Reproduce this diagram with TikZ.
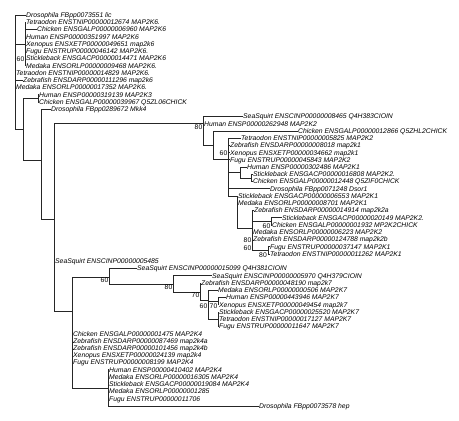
\documentclass[tikz,border=0pt]{standalone}
\usepackage{fontspec}
\setmainfont{Liberation Sans}
\begin{document}
\begin{tikzpicture}[x=1pt,y=-1pt,
  leaf/.style={anchor=west,inner sep=0pt,text height=4.9pt,text depth=0pt,font=\fontsize{6.8}{7}\selectfont\itshape},
  sup/.style={anchor=east,inner sep=0pt,text height=4.9pt,text depth=0pt,font=\fontsize{6.8}{7}\selectfont},
  br/.style={line width=0.65pt,black!85}]
\useasboundingbox (0,0) rectangle (459,421);
% ---- leaves ----
\node[leaf] (L1) at (26,15.00) {Drosophila FBpp0073551 lic};
\node[leaf] (L2) at (26,22.24) {Tetraodon ENSTNIP00000012674 MAP2K6.};
\node[leaf] (L3) at (37,29.48) {Chicken ENSGALP00000006960 MAP2K6};
\node[leaf] (L4) at (26,36.72) {Human ENSP00000351997 MAP2K6};
\node[leaf] (L5) at (26,43.96) {Xenopus ENSXETP00000049651 map2k6};
\node[leaf] (L6) at (26,51.20) {Fugu ENSTRUP00000046142 MAP2K6.};
\node[leaf] (L7) at (26,58.44) {Stickleback ENSGACP00000014471 MAP2K6};
\node[leaf] (L8) at (26,65.68) {Medaka ENSORLP00000009468 MAP2K6.};
\node[leaf] (L9) at (16,72.92) {Tetraodon ENSTNIP00000014829 MAP2K6.};
\node[leaf] (L10) at (23,80.16) {Zebrafish ENSDARP00000111296 map2k6};
\node[leaf] (L11) at (16,87.40) {Medaka ENSORLP00000017352 MAP2K6.};
\node[leaf] (L12) at (39,94.64) {Human ENSP00000319139 MAP2K3};
\node[leaf] (L13) at (39,101.88) {Chicken ENSGALP00000039967 Q5ZL06CHICK};
\node[leaf] (L14) at (51,109.12) {Drosophila FBpp0289672 Mkk4};
\node[leaf] (L15) at (243,116.36) {SeaSquirt ENSCINP00000008465 Q4H383CIOIN};
\node[leaf] (L16) at (204,123.60) {Human ENSP00000262948 MAP2K2};
\node[leaf] (L17) at (298,130.84) {Chicken ENSGALP00000012866 Q5ZHL2CHICK};
\node[leaf] (L18) at (241,138.08) {Tetraodon ENSTNIP00000005825 MAP2K2};
\node[leaf] (L19) at (230,145.32) {Zebrafish ENSDARP00000008018 map2k1};
\node[leaf] (L20) at (230,152.56) {Xenopus ENSXETP00000034662 map2k1};
\node[leaf] (L21) at (230,159.80) {Fugu ENSTRUP00000045843 MAP2K2};
\node[leaf] (L22) at (247,167.04) {Human ENSP00000302486 MAP2K1};
\node[leaf] (L23) at (253,174.28) {Stickleback ENSGACP00000016808 MAP2K2.};
\node[leaf] (L24) at (253,181.52) {Chicken ENSGALP00000012448 Q5ZIF0CHICK};
\node[leaf] (L25) at (270,188.76) {Drosophila FBpp0071248 Dsor1};
\node[leaf] (L26) at (238,196.00) {Stickleback ENSGACP00000006553 MAP2K1};
\node[leaf] (L27) at (238,203.24) {Medaka ENSORLP00000008701 MAP2K1};
\node[leaf] (L28) at (254,210.48) {Zebrafish ENSDARP00000014914 map2k2a};
\node[leaf] (L29) at (282,217.72) {Stickleback ENSGACP00000020149 MAP2K2.};
\node[leaf] (L30) at (272,224.96) {Chicken ENSGALP00000001932 MP2K2CHICK};
\node[leaf] (L31) at (253,232.20) {Medaka ENSORLP00000006223 MAP2K2};
\node[leaf] (L32) at (253,239.44) {Zebrafish ENSDARP00000124788 map2k2b};
\node[leaf] (L33) at (270,246.68) {Fugu ENSTRUP00000037147 MAP2K1};
\node[leaf] (L34) at (270,253.92) {Tetraodon ENSTNIP00000011262 MAP2K1};
\node[leaf] (L35) at (55,261.16) {SeaSquirt ENSCINP00000005485};
\node[leaf] (L36) at (137,268.40) {SeaSquirt ENSCINP00000015099 Q4H381CIOIN};
\node[leaf] (L37) at (212,275.64) {SeaSquirt ENSCINP00000005970 Q4H379CIOIN};
\node[leaf] (L38) at (201,282.88) {Zebrafish ENSDARP00000048190 map2k7};
\node[leaf] (L39) at (218,290.12) {Medaka ENSORLP00000000506 MAP2K7};
\node[leaf] (L40) at (226,297.36) {Human ENSP00000443946 MAP2K7};
\node[leaf] (L41) at (219,304.60) {Xenopus ENSXETP00000049454 map2k7};
\node[leaf] (L42) at (219,311.84) {Stickleback ENSGACP00000025520 MAP2K7};
\node[leaf] (L43) at (219,319.08) {Tetraodon ENSTNIP00000017127 MAP2K7};
\node[leaf] (L44) at (219,326.32) {Fugu ENSTRUP00000011647 MAP2K7};
\node[leaf] (L45) at (73,333.56) {Chicken ENSGALP00000001475 MAP2K4};
\node[leaf] (L46) at (73,340.80) {Zebrafish ENSDARP00000087469 map2k4a};
\node[leaf] (L47) at (73,348.04) {Zebrafish ENSDARP00000101456 map2k4b};
\node[leaf] (L48) at (73,355.28) {Xenopus ENSXETP00000024139 map2k4};
\node[leaf] (L49) at (73,362.52) {Fugu ENSTRUP00000008199 MAP2K4};
\node[leaf] (L50) at (109,369.76) {Human ENSP00000410402 MAP2K4};
\node[leaf] (L51) at (109,377.00) {Medaka ENSORLP00000016305 MAP2K4};
\node[leaf] (L52) at (109,384.24) {Stickleback ENSGACP00000019084 MAP2K4};
\node[leaf] (L53) at (109,391.48) {Medaka ENSORLP00000001285};
\node[leaf] (L54) at (109,398.72) {Fugu ENSTRUP00000011706};
\node[leaf] (L55) at (259,405.96) {Drosophila FBpp0073578 hep};
% ---- internal nodes ----
\coordinate (root) at (15,15);
\coordinate (M6) at (25,43.96);
\coordinate (N23) at (23,129);
\coordinate (N38) at (38,98.26);
\coordinate (N41) at (41,160);
\coordinate (N54) at (54,219);
\coordinate (NA) at (203,123.6);
\coordinate (NB) at (213,145);
\coordinate (NC) at (228,159.8);
\coordinate (ND) at (240,172);
\coordinate (ND2) at (251,178);
\coordinate (NE) at (237,196);
\coordinate (NF) at (252,228);
\coordinate (NG) at (271,221.34);
\coordinate (NH) at (268,250.3);
\coordinate (N72) at (72,311);
\coordinate (N109) at (109,277);
\coordinate (N173) at (173,284);
\coordinate (N200) at (200,292);
\coordinate (N208) at (208,300.5);
\coordinate (N218a) at (218,301);
\coordinate (N218b) at (218,319.08);
\coordinate (N108) at (108,387.9);
% ---- branches ----
\foreach \c in {L1,L9,L10,L11} \draw[br] (root) |- (\c.west);
\draw[br] (root) |- (M6);
\draw[br] (root) |- (N23);
\foreach \c in {L2,L3,L4,L5,L6,L7,L8} \draw[br] (M6) |- (\c.west);
\draw[br] (N23) |- (N38);
\draw[br] (N23) |- (N41);
\foreach \c in {L12,L13} \draw[br] (N38) |- (\c.west);
\draw[br] (N41) |- (L14.west);
\draw[br] (N41) |- (N54);
\draw[br] (N54) |- (NA);
\draw[br] (N54) |- (L35.west);
\draw[br] (N54) |- (N72);
\foreach \c in {L15,L16} \draw[br] (NA) |- (\c.west);
\draw[br] (NA) |- (NB);
\draw[br] (NB) |- (L17.west);
\draw[br] (NB) |- (NC);
\foreach \c in {L18,L19,L20,L21,L25} \draw[br] (NC) |- (\c.west);
\draw[br] (NC) |- (ND);
\draw[br] (NC) |- (NE);
\draw[br] (ND) |- (L22.west);
\draw[br] (ND) |- (ND2);
\foreach \c in {L23,L24} \draw[br] (ND2) |- (\c.west);
\foreach \c in {L26,L27} \draw[br] (NE) |- (\c.west);
\draw[br] (NE) |- (NF);
\foreach \c in {L28,L31,L32} \draw[br] (NF) |- (\c.west);
\draw[br] (NF) |- (NG);
\draw[br] (NF) |- (NH);
\foreach \c in {L29,L30} \draw[br] (NG) |- (\c.west);
\foreach \c in {L33,L34} \draw[br] (NH) |- (\c.west);
\draw[br] (N72) |- (N109);
\foreach \c in {L45,L46,L47,L48,L49} \draw[br] (N72) |- (\c.west);
\draw[br] (N72) |- (N108);
\draw[br] (N109) |- (L36.west);
\draw[br] (N109) |- (N173);
\draw[br] (N173) |- (L37.west);
\draw[br] (N173) |- (N200);
\draw[br] (N200) |- (L38.west);
\draw[br] (N200) |- (N208);
\draw[br] (N208) |- (L39.west);
\draw[br] (N208) |- (N218a);
\draw[br] (N208) |- (N218b);
\foreach \c in {L40,L41} \draw[br] (N218a) |- (\c.west);
\foreach \c in {L42,L43,L44} \draw[br] (N218b) |- (\c.west);
\foreach \c in {L50,L51,L52,L53,L54,L55} \draw[br] (N108) |- (\c.west);
% ---- support values ----
\node[sup] (s1) at (24.5,59.4) {60};
\node[sup] (s2) at (202.5,127.5) {80};
\node[sup] (s3) at (227.5,153.5) {60};
\node[sup] (s4) at (270.5,226) {60};
\node[sup] (s5) at (251.5,240.4) {80};
\node[sup] (s6) at (251.5,247.7) {60};
\node[sup] (s7) at (267,255) {80};
\node[sup] (s8) at (108.5,280.5) {60};
\node[sup] (s9) at (172.5,287.5) {80};
\node[sup] (s10) at (199.5,295.5) {70};
\node[sup] (s11) at (207.5,305.6) {60};
\node[sup] (s12) at (217.5,305.6) {70};
\end{tikzpicture}
\end{document}
